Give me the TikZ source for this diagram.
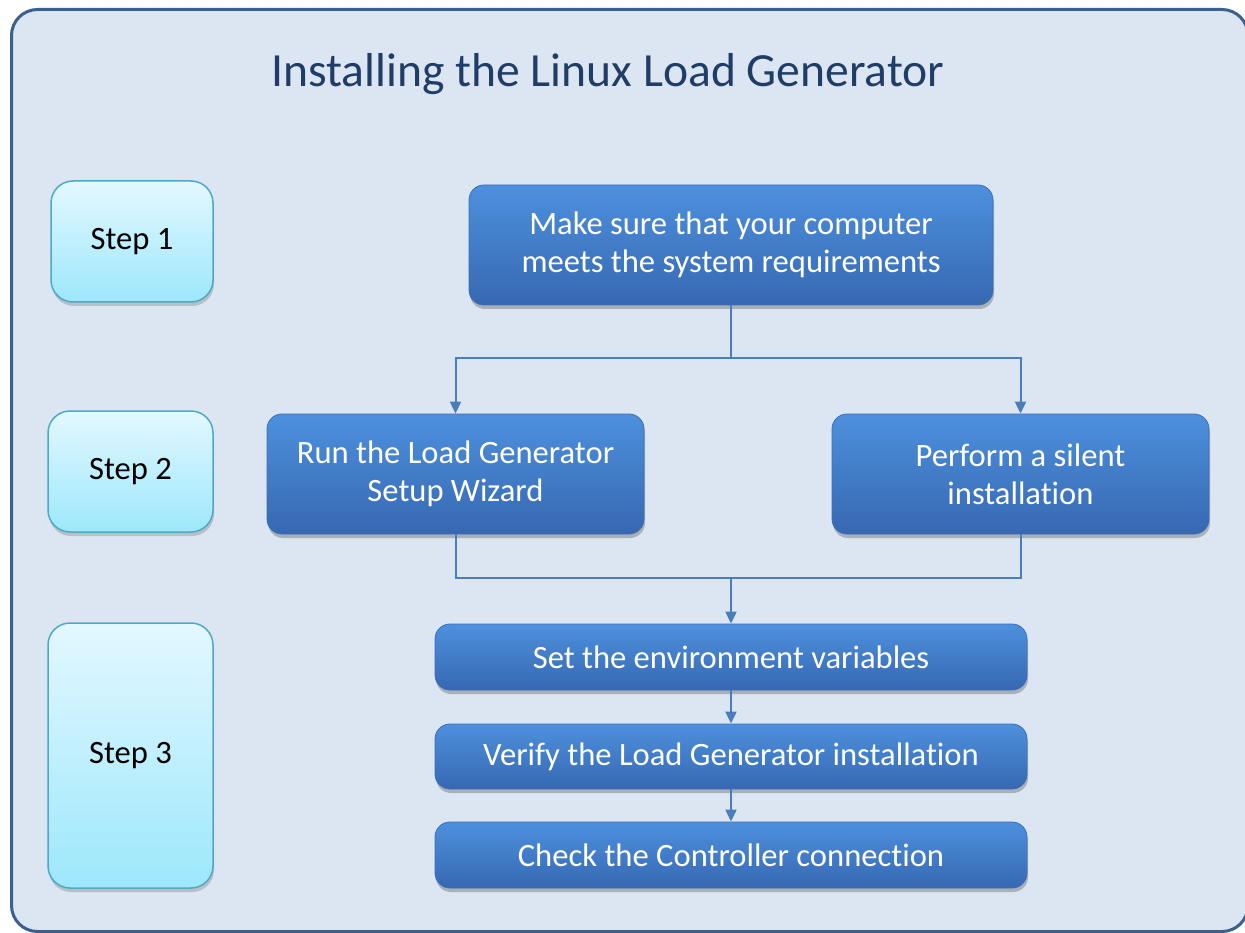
\documentclass[tikz,border=0pt]{standalone}
\usepackage{fontspec}
\setmainfont{Carlito}[Ligatures={NoCommon}]
\usetikzlibrary{arrows.meta,shadows}
\definecolor{framebg}{HTML}{DCE6F2}
\definecolor{frameline}{HTML}{3B5F8F}
\definecolor{titlecol}{HTML}{1F3D66}
\definecolor{bluetop}{HTML}{4D90DD}
\definecolor{bluebot}{HTML}{3768B2}
\definecolor{blueline}{HTML}{3A6FB6}
\definecolor{aquatop}{HTML}{E3F8FF}
\definecolor{aquabot}{HTML}{9DE7FC}
\definecolor{aqualine}{HTML}{4FA9C6}
\definecolor{conncol}{HTML}{4A7EBB}
\tikzset{
  bluebox/.style={rounded corners=15pt, draw=blueline, line width=0.8pt,
    top color=bluetop, bottom color=bluebot, text=white,
    font=\fontsize{32.6}{38}\selectfont, align=center, inner sep=0pt,
    drop shadow={shadow xshift=1pt, shadow yshift=-4pt, opacity=0.35, fill=black!70}},
  stepbox/.style={rounded corners=22pt, draw=aqualine, line width=1.5pt,
    top color=aquatop, bottom color=aquabot, text=black,
    font=\fontsize{32.6}{38}\selectfont, align=center, inner sep=0pt,
    drop shadow={shadow xshift=1pt, shadow yshift=-4pt, opacity=0.3, fill=black!60}},
  conn/.style={draw=conncol, line width=2pt},
  arr/.style={conn, -{Triangle[length=12pt,width=11pt]}}
}
\begin{document}
\begin{tikzpicture}[x=1pt,y=-1pt]
\useasboundingbox (0,0) rectangle (1245,933);
\draw[fill=framebg, draw=frameline, line width=3pt, rounded corners=26pt] (11.5,9.5) rectangle (1248,931.5);
\node[anchor=base, text=titlecol, font=\fontsize{47.6}{56}\selectfont] (title) at (608,87) {Installing the Linux Load Generator};

\node[stepbox, minimum width=162pt, minimum height=121pt] (s1) at (132,241.5) {\raisebox{-2pt}{Step 1}};
\node[stepbox, minimum width=165pt, minimum height=121pt] (s2) at (130.5,471.5) {\raisebox{-2pt}{Step 2}};
\node[stepbox, minimum width=165pt, minimum height=265pt] (s3) at (130.5,755.5) {\raisebox{-2pt}{Step 3}};

\node[bluebox, minimum width=524pt, minimum height=120pt] (a) at (731,245) {Make sure that your computer\\meets the system requirements};
\node[bluebox, minimum width=377pt, minimum height=120pt] (b) at (455.5,474) {Run the Load Generator\\Setup Wizard};
\node[bluebox, minimum width=377pt, minimum height=120pt] (c) at (1020.5,474) {Perform a silent\\installation};
\node[bluebox, minimum width=592pt, minimum height=66pt] (d) at (731,657) {Set the environment variables};
\node[bluebox, minimum width=592pt, minimum height=65pt] (e) at (731,756.5) {Verify the Load Generator installation};
\node[bluebox, minimum width=592pt, minimum height=66pt] (f) at (731,855) {Check the Controller connection};

\coordinate (j1) at (731,358);
\coordinate (j2) at (731,578);
\draw[conn] (a.south) -- (j1);
\draw[arr] (j1) -| (b.north);
\draw[arr] (j1) -| (c.north);
\draw[conn] (b.south) |- (j2);
\draw[conn] (c.south) |- (j2);
\draw[arr] (j2) -- (d.north);
\draw[arr] (d.south) -- (e.north);
\draw[arr] (e.south) -- (f.north);
\end{tikzpicture}
\end{document}
